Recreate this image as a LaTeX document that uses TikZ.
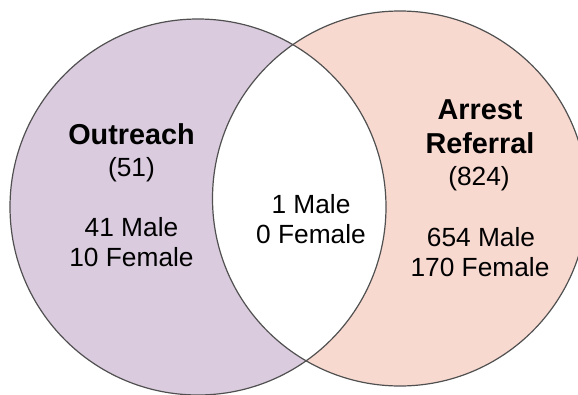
\documentclass[tikz,border=0pt]{standalone}
\usepackage{fontspec}
\setmainfont{Liberation Sans}
\usepackage{tikz}
\usetikzlibrary{positioning}
\definecolor{outreachfill}{RGB}{218,203,222}
\definecolor{arrestfill}{RGB}{248,217,208}
\definecolor{ringgray}{RGB}{80,80,80}
\tikzstyle{ring}= [line width=1.2pt, draw=ringgray]

\begin{document}
\begin{tikzpicture}[
		x=1pt, y=-1pt,
    lbl/.style={
    anchor=base, inner sep=0pt, font=\fontsize{26.3pt}{30pt}\selectfont,
    },
    ttl/.style={
    anchor=base, inner sep=0pt, font=\bfseries\fontsize{28.8pt}{34pt}\selectfont,
    }
	]
  \clip (0,0) rectangle (578,394);

  % the two sets and their overlap
  \fill[outreachfill] (198,207) circle[radius=188pt];
  \fill[arrestfill] (400,198.5) circle[radius=187.5pt];
  \begin{scope}
    \clip (198,207) circle[radius=188pt];
    \fill[white] (400,198.5) circle[radius=187.5pt];
  \end{scope}
  \draw[ring] (198,207) circle[radius=188pt];
  \draw[ring] (400,198.5) circle[radius=187.5pt];

  % Outreach
  \node[ttl] (outtitle) at (131.5,144.5) {Outreach};
  \node[lbl] (outcount) at (131.5,176) {(51)};
  \node[lbl] (outmale) at (131.5,236) {41 Male};
  \node[lbl] (outfemale) at (131.5,266.7) {10 Female};

  % both
  \node[lbl] (bothmale) at (311,213.3) {1 Male};
  \node[lbl] (bothfemale) at (311,243.3) {0 Female};

  % Arrest Referral
  \node[ttl] (arrtitle) at (480,119.5) {Arrest};
  \node[ttl] (reftitle) at (480,153.5) {Referral};
  \node[lbl] (arrcount) at (479,185) {(824)};
  \node[lbl] (arrmale) at (481,246.7) {654 Male};
  \node[lbl] (arrfemale) at (480,276.7) {170 Female};
\end{tikzpicture}
\end{document}
